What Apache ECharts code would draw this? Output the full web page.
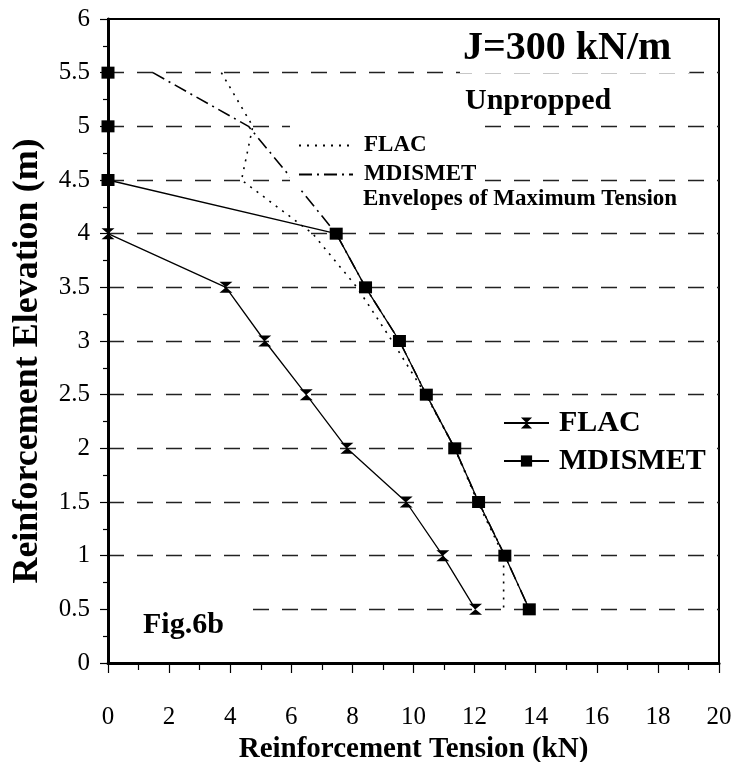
<!DOCTYPE html>
<html>
<head>
<meta charset="utf-8">
<script src="https://cdn.jsdelivr.net/npm/echarts@6/dist/echarts.min.js"></script>
<style>
  html, body { margin: 0; padding: 0; background: #fff; }
  #chart { width: 733px; height: 762px; }
</style>
</head>
<body>
<div id="chart"></div>
<script>
  // values (tension in kN, elevation in m)
  const flacElev = [4, 3.5, 3, 2.5, 2, 1.5, 1, 0.5]
  const flacTension = [0, 3.86, 5.13, 6.49, 7.82, 9.76, 10.96, 12.03]
  const mdismetElev = [5.5, 5, 4.5, 4, 3.5, 3, 2.5, 2, 1.5, 1, 0.5]
  const mdismetTension = [0, 0, 0, 7.47, 8.43, 9.54, 10.42, 11.35, 12.13, 12.99, 13.79]
  // envelopes of maximum tension
  const envElev = [5.5, 5, 4.5, 4, 3.5, 3, 2.5, 2, 1.5, 1, 0.5]
  const flacEnvTension = [3.71, 4.74, 4.37, 6.7, 8.15, 9.3, 10.4, 11.35, 12.1, 12.95, 12.95]
  const mdismetEnvTension = [1.47, 4.6, 6.05, 7.47, 8.43, 9.54, 10.42, 11.35, 12.13, 12.99, 13.79]
  const xTicks = [0, 2, 4, 6, 8, 10, 12, 14, 16, 18, 20]
  const yTicks = [0, 0.5, 1, 1.5, 2, 2.5, 3, 3.5, 4, 4.5, 5, 5.5, 6]

  const serif = 'Liberation Serif'
  const pairs = (xs, ys) => xs.map((x, i) => [x, ys[i]])
  const hourglass = 'path://M0,0L12,0L0,10L12,10Z'

  const chart = echarts.init(document.getElementById('chart'))
  chart.setOption({
    animation: false,
    backgroundColor: '#fff',
    grid: {
      left: 108, right: 14, top: 19, bottom: 99,
      outerBoundsMode: 'none',
      show: true, borderColor: '#000', borderWidth: 2
    },
    xAxis: {
      type: 'value',
      min: xTicks[0], max: xTicks[xTicks.length - 1], interval: 2,
      name: 'Reinforcement Tension (kN)',
      nameLocation: 'middle', nameGap: 64,
      nameTextStyle: { fontFamily: serif, fontWeight: 'bold', fontSize: 29, color: '#000' },
      axisLine: { lineStyle: { color: '#000', width: 3 } },
      axisTick: { length: 10, lineStyle: { color: '#000', width: 1.2 } },
      minorTick: { show: true, splitNumber: 2, length: 7, lineStyle: { color: '#000', width: 1.2 } },
      axisLabel: { margin: 42, fontFamily: serif, fontSize: 25, color: '#000' },
      splitLine: { show: false }
    },
    yAxis: {
      type: 'value',
      min: yTicks[0], max: yTicks[yTicks.length - 1], interval: 0.5,
      name: 'Reinforcement Elevation (m)',
      nameLocation: 'middle', nameGap: 62,
      nameTextStyle: {
        fontFamily: serif, fontWeight: 'bold', fontSize: 36, color: '#000',
        padding: [0, 40, 0, 0]
      },
      axisLine: { lineStyle: { color: '#000', width: 3 } },
      axisTick: { length: 8, lineStyle: { color: '#000', width: 1.2 } },
      minorTick: { show: true, splitNumber: 2, length: 5, lineStyle: { color: '#000', width: 1.2 } },
      axisLabel: { margin: 18, fontFamily: serif, fontSize: 25, color: '#000' },
      splitLine: {
        show: true, showMinLine: false, showMaxLine: false,
        lineStyle: { color: '#222', width: 1.3, type: [16, 13] }
      }
    },
    legend: [{
      data: ['FLAC', 'MDISMET'],
      orient: 'vertical',
      left: 480, top: 400,
      padding: [8, 5, 6, 23],
      backgroundColor: '#fff',
      itemWidth: 45, itemHeight: 14, itemGap: 8,
      textStyle: { fontFamily: serif, fontWeight: 'bold', fontSize: 30, color: '#000', padding: [0, 0, 0, 5] }
    }, {
      data: ['FLAC envelope', 'MDISMET envelope'],
      formatter: name => name.replace(' envelope', ''),
      orient: 'vertical',
      left: 290, top: 120,
      padding: [14, 8, 4, 8],
      backgroundColor: '#fff',
      itemWidth: 54, itemHeight: 10, itemGap: 6,
      itemStyle: { opacity: 0 },
      textStyle: { fontFamily: serif, fontWeight: 'bold', fontSize: 23, color: '#000', padding: [0, 0, 0, 6] }
    }],
    graphic: [{
      type: 'text', left: 460, top: 29, z: 100,
      style: {
        text: 'J=300 kN/m', font: 'bold 40px "Liberation Serif"', fill: '#000',
        backgroundColor: '#fff', padding: [0, 18, 4, 3]
      }
    }, {
      type: 'text', left: 465, top: 86, z: 100,
      style: { text: 'Unpropped', font: 'bold 30px "Liberation Serif"', fill: '#000' }
    }, {
      type: 'text', left: 355, top: 188, z: 100,
      style: {
        text: 'Envelopes of Maximum Tension', font: 'bold 23px "Liberation Serif"', fill: '#000',
        backgroundColor: '#fff', padding: [0, 4, 0, 8]
      }
    }, {
      type: 'text', left: 110, top: 606, z: 100,
      style: {
        text: 'Fig.6b', font: 'bold 30px "Liberation Serif"', fill: '#000',
        backgroundColor: '#fff', padding: [4, 29, 2, 33]
      }
    }],
    series: [{
      name: 'FLAC envelope',
      type: 'line',
      data: pairs(flacEnvTension, envElev),
      symbol: 'none',
      itemStyle: { color: '#000' },
      lineStyle: { color: '#000', width: 1.6, type: [2, 6] },
      z: 2
    }, {
      name: 'MDISMET envelope',
      type: 'line',
      data: pairs(mdismetEnvTension, envElev),
      symbol: 'none',
      itemStyle: { color: '#000' },
      lineStyle: { color: '#000', width: 1.6, type: [13, 5, 2, 5] },
      z: 2
    }, {
      name: 'FLAC',
      type: 'line',
      data: pairs(flacTension, flacElev),
      symbol: hourglass,
      symbolSize: [13, 11],
      itemStyle: { color: '#000' },
      lineStyle: { color: '#000', width: 1.3 },
      z: 3
    }, {
      name: 'MDISMET',
      type: 'line',
      data: pairs(mdismetTension, mdismetElev),
      symbol: 'rect',
      symbolSize: [13, 12],
      itemStyle: { color: '#000' },
      lineStyle: { color: '#000', width: 1.3 },
      z: 3
    }]
  })
</script>
</body>
</html>
